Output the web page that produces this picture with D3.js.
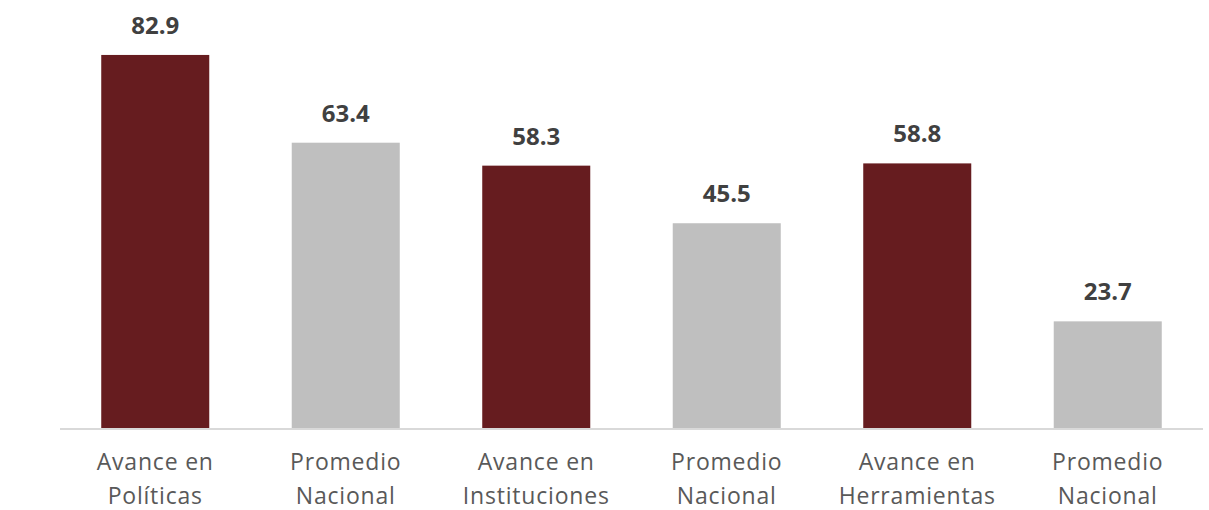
<!DOCTYPE html>
<html><head><meta charset="utf-8">
<script src="https://cdn.jsdelivr.net/npm/d3@7"></script>
<style>body{margin:0;background:#fff}</style>
</head><body>
<svg id="c" width="1209" height="510"></svg>
<script>
const categories = [["Avance en","Políticas"],["Promedio","Nacional"],["Avance en","Instituciones"],["Promedio","Nacional"],["Avance en","Herramientas"],["Promedio","Nacional"]];
const values = [82.9, 63.4, 58.3, 45.5, 58.8, 23.7];
const kinds = ["avance","promedio","avance","promedio","avance","promedio"];
const colors = {avance:"#661C1F", promedio:"#BFBFBF"};

const svg = d3.select("#c");
const ids = d3.range(values.length);
const x = d3.scaleBand().domain(ids).range([60,1203]).paddingInner(0.433).paddingOuter(0.2165);
const y = d3.scaleLinear().domain([0,90]).range([428,23]);

svg.selectAll("rect.bar").data(ids).join("rect")
  .attr("x", i=>x(i)).attr("width", x.bandwidth())
  .attr("y", i=>y(values[i])).attr("height", i=>y(0)-y(values[i]))
  .attr("fill", i=>colors[kinds[i]]);

svg.append("line").attr("x1",60).attr("x2",1203).attr("y1",y(0)+1).attr("y2",y(0)+1)
  .attr("stroke","#D9D9D9").attr("stroke-width",2);

svg.selectAll("text.val").data(ids).join("text")
  .attr("x", i=>x(i)+x.bandwidth()/2).attr("y", i=>y(values[i])-21)
  .attr("text-anchor","middle").attr("font-family","'Open Sans', sans-serif")
  .attr("font-weight","bold").attr("font-size",24).attr("fill","#404040")
  .text(i=>values[i].toFixed(1));

const lab = svg.selectAll("text.cat").data(ids).join("text")
  .attr("text-anchor","middle").attr("font-family","'Open Sans', sans-serif")
  .attr("font-size",23).attr("fill","#595959").attr("letter-spacing",0.8);
lab.each(function(i){
  const t = d3.select(this);
  categories[i].forEach((s,k)=>{
    t.append("tspan").attr("x", x(i)+x.bandwidth()/2).attr("y", 470+k*34).text(s);
  });
});
</script>
</body></html>
